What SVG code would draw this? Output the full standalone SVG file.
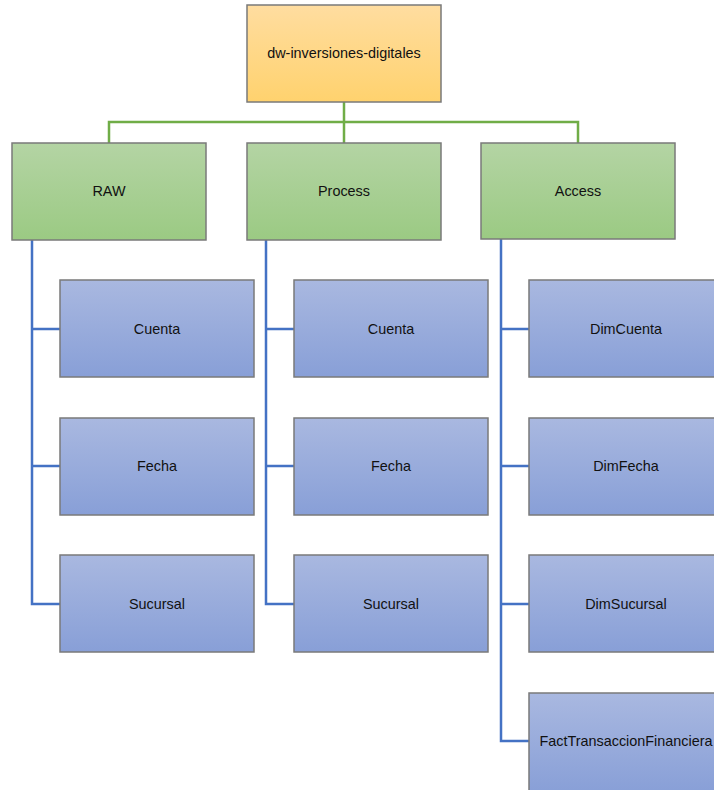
<svg xmlns="http://www.w3.org/2000/svg" width="714" height="790" viewBox="0 0 714 790">
<defs>
<linearGradient id="gOrange" x1="0" y1="0" x2="0" y2="1"><stop offset="0" stop-color="#ffdda0"/><stop offset="1" stop-color="#ffd26e"/></linearGradient>
<linearGradient id="gGreen" x1="0" y1="0" x2="0" y2="1"><stop offset="0" stop-color="#b4d4a4"/><stop offset="1" stop-color="#9bca83"/></linearGradient>
<linearGradient id="gBlue" x1="0" y1="0" x2="0" y2="1"><stop offset="0" stop-color="#a9b8e0"/><stop offset="1" stop-color="#889fd7"/></linearGradient>
</defs>
<style>
rect{stroke:#7a7a7a;stroke-width:1.5}
.o{fill:url(#gOrange)}
.g{fill:url(#gGreen)}
.b{fill:url(#gBlue)}
text{font-family:"Liberation Sans",Arial,sans-serif;font-size:14.4px;fill:#111;text-anchor:middle;dominant-baseline:central}
.cg{fill:none;stroke:#70ad47;stroke-width:2.5}
.cb{fill:none;stroke:#4472c4;stroke-width:2.5}
</style>
<rect width="714" height="790" fill="#fff" style="stroke:none"/>
<g id="connectors">
<path class="cg" d="M344 102V143M109 143V122H578V143"/>
<path class="cb" d="M32 240V604H60M32 329H60M32 466H60"/>
<path class="cb" d="M266 240V604H294M266 329H294M266 466H294"/>
<path class="cb" d="M501 239V741H529M501 329H529M501 466H529M501 604H529"/>
</g>
<g id="root"><rect class="o" x="247" y="5" width="194" height="97"/><text x="344" y="53">dw-inversiones-digitales</text></g>
<g id="raw"><rect class="g" x="12" y="143" width="194" height="97"/><text x="109" y="191">RAW</text></g>
<g id="process"><rect class="g" x="247" y="143" width="194" height="97"/><text x="344" y="191">Process</text></g>
<g id="access"><rect class="g" x="481" y="143" width="194" height="96"/><text x="578" y="191">Access</text></g>
<g id="raw-cuenta"><rect class="b" x="60" y="280" width="194" height="97"/><text x="157" y="329">Cuenta</text></g>
<g id="raw-fecha"><rect class="b" x="60" y="418" width="194" height="97"/><text x="157" y="466">Fecha</text></g>
<g id="raw-sucursal"><rect class="b" x="60" y="555" width="194" height="97"/><text x="157" y="604">Sucursal</text></g>
<g id="process-cuenta"><rect class="b" x="294" y="280" width="194" height="97"/><text x="391" y="329">Cuenta</text></g>
<g id="process-fecha"><rect class="b" x="294" y="418" width="194" height="97"/><text x="391" y="466">Fecha</text></g>
<g id="process-sucursal"><rect class="b" x="294" y="555" width="194" height="97"/><text x="391" y="604">Sucursal</text></g>
<g id="dimcuenta"><rect class="b" x="529" y="280" width="194" height="97"/><text x="626" y="329">DimCuenta</text></g>
<g id="dimfecha"><rect class="b" x="529" y="418" width="194" height="97"/><text x="626" y="466">DimFecha</text></g>
<g id="dimsucursal"><rect class="b" x="529" y="555" width="194" height="97"/><text x="626" y="604">DimSucursal</text></g>
<g id="facttransaccion"><rect class="b" x="529" y="693" width="194" height="100"/><text x="626" y="741">FactTransaccionFinanciera</text></g>
</svg>
